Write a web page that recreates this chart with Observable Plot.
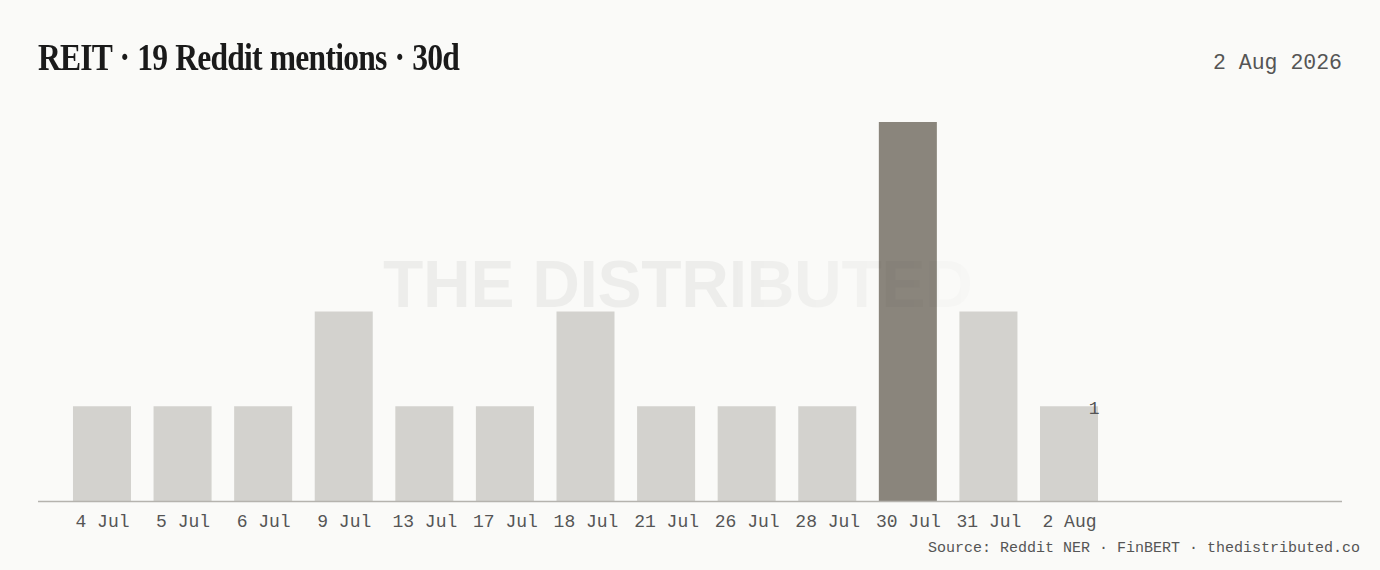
<!DOCTYPE html>
<html><head><meta charset="utf-8">
<script src="https://cdn.jsdelivr.net/npm/d3@7"></script>
<script src="https://cdn.jsdelivr.net/npm/@observablehq/plot@0.6"></script>
<style>
html,body{margin:0;padding:0;background:#fafaf8;}
#wrap{position:relative;width:1380px;height:570px;overflow:hidden;background:#fafaf8;}
#title{position:absolute;left:38px;top:36px;font-family:"Liberation Serif","DejaVu Serif",serif;font-weight:bold;font-size:37px;letter-spacing:-0.9px;word-spacing:1px;color:#1a1a1a;white-space:nowrap;transform-origin:0 50%;}
#date{position:absolute;right:38px;top:51px;font-family:"Liberation Mono","DejaVu Sans Mono",monospace;font-size:21.5px;color:#555;white-space:nowrap;}
#chart{position:absolute;left:0;top:100px;}
#source{position:absolute;right:20px;top:540px;font-family:"Liberation Mono","DejaVu Sans Mono",monospace;font-size:15px;color:#555;white-space:nowrap;}
#wm{position:absolute;left:383px;top:246px;font-family:"Liberation Sans",Arial,sans-serif;font-weight:bold;font-size:66px;letter-spacing:-0.3px;white-space:nowrap;pointer-events:none;
 background:linear-gradient(90deg,rgba(0,0,0,0.05) 0%,rgba(0,0,0,0.05) 58%,rgba(0,0,0,0.03) 80%,rgba(0,0,0,0.012) 100%);-webkit-background-clip:text;background-clip:text;color:transparent;}
</style></head>
<body><div id="wrap">
<div id="title">REIT · 19 Reddit mentions · 30d</div>
<div id="date">2 Aug 2026</div>
<div id="chart"></div>
<div id="wm">THE DISTRIBUTED</div>
<div id="source">Source: Reddit NER · FinBERT · thedistributed.co</div>
</div>
<script>
const days = ["4 Jul","5 Jul","6 Jul","9 Jul","13 Jul","17 Jul","18 Jul","21 Jul","26 Jul","28 Jul","30 Jul","31 Jul","2 Aug"];
const mentions = [1,1,1,2,1,1,2,1,1,1,4,2,1];
const peakDay = "30 Jul";
const lastLabel = "1";

const data = days.map((d,i)=>({day:d, n:mentions[i]}));
const last = data[data.length-1];

const chart = Plot.plot({
  width: 1380,
  height: 440,
  marginLeft: 38,
  marginRight: 38,
  marginTop: 22,
  marginBottom: 39,
  style: {background: "transparent", fontFamily: "'Liberation Mono','DejaVu Sans Mono',monospace"},
  x: {type: "band", domain: days, range: [38, 1133], paddingInner: 0.28, paddingOuter: 0.434, align: 0.5, round: false},
  y: {domain: [0, 4], axis: null},
  marks: [
    Plot.barY(data, {x: "day", y: "n", fill: d => d.day === peakDay ? "#8a857c" : "#d3d2ce"}),
    Plot.ruleY([0], {stroke: "#b5b3ae", strokeWidth: 1.5}),
    Plot.axisX({tickSize: 0, tickPadding: 13, fontSize: 18, fill: "#555", label: null}),
    Plot.text([last], {x: "day", y: "n", text: () => lastLabel, dx: 30, dy: 1, fontSize: 18, fill: "#555", textAnchor: "end"})
  ]
});
document.getElementById("chart").appendChild(chart);

const t = document.getElementById("title");
const w = t.getBoundingClientRect().width;
t.style.transform = `scaleX(${421 / w})`;
</script>
</body></html>
